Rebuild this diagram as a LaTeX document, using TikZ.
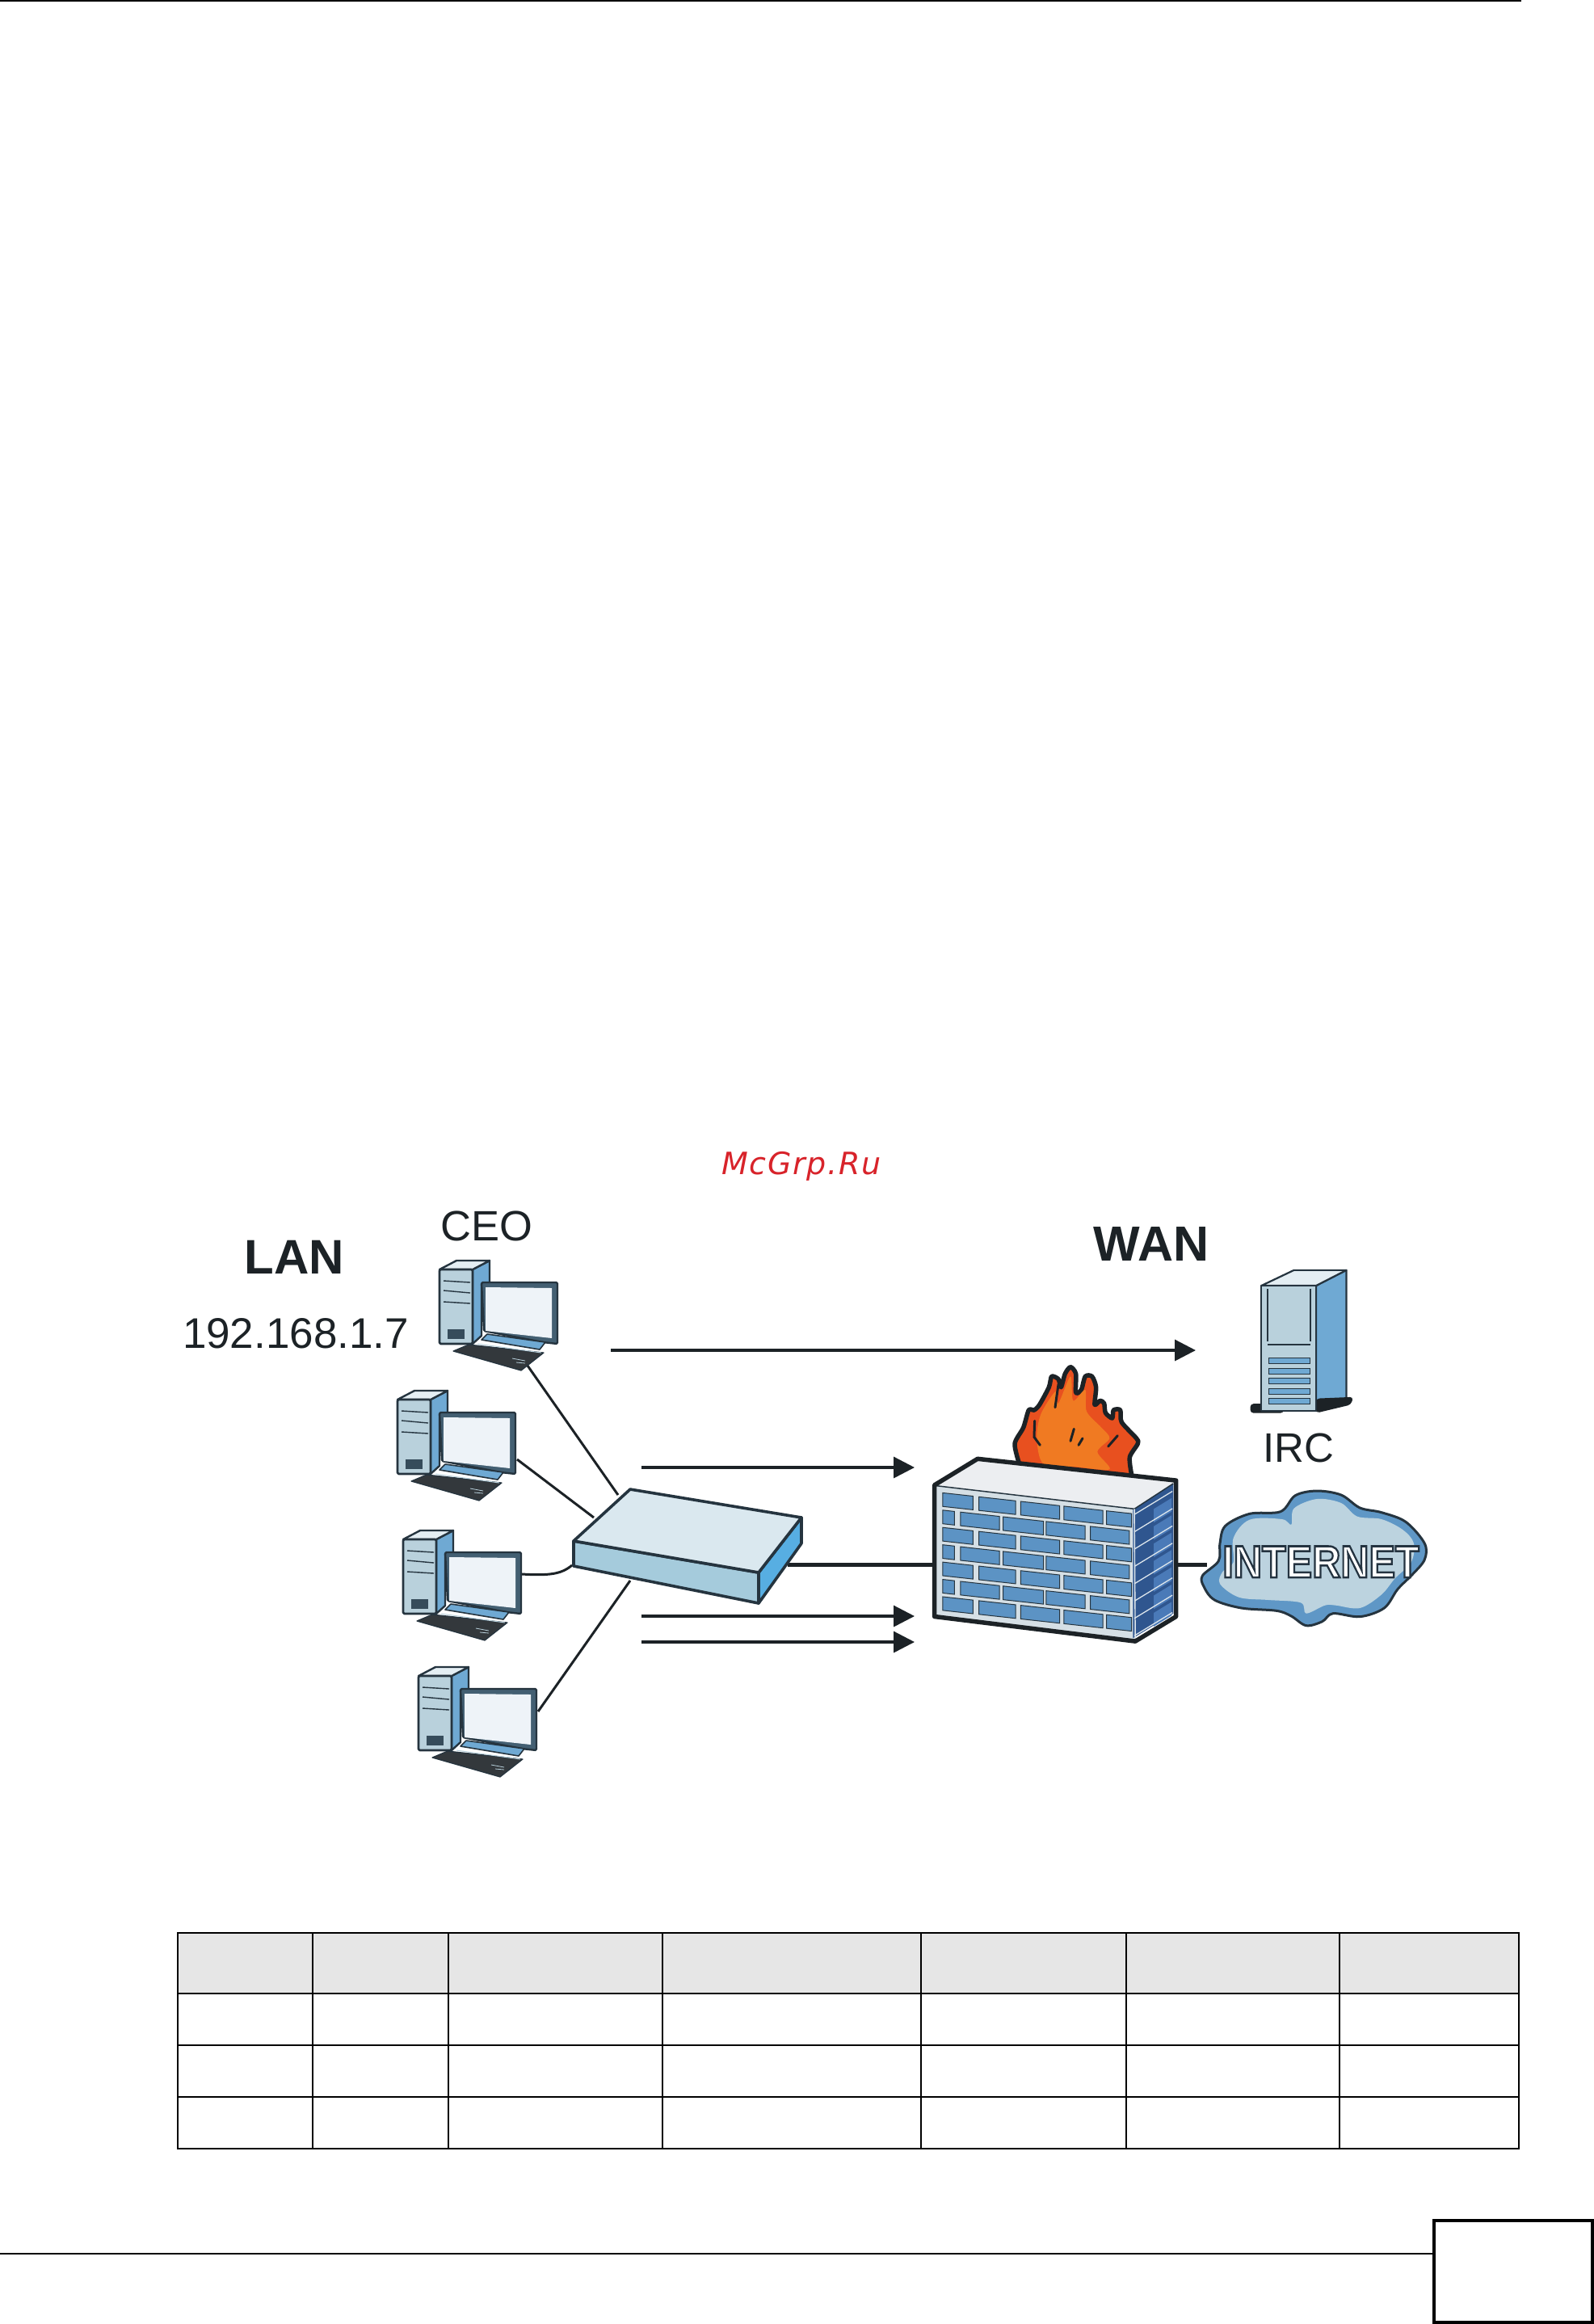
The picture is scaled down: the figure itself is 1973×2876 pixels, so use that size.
\documentclass[tikz,border=0pt]{standalone}
\usepackage{fontspec}
\setmainfont{Liberation Sans}
\newfontfamily\wmfont[LetterSpace=4.6]{DejaVu Sans Oblique}
\newfontfamily\inetfont[FakeBold=4.5]{Liberation Sans Bold}
\usetikzlibrary{arrows.meta}
\definecolor{ink}{HTML}{1C2226}
\definecolor{outl}{HTML}{25343F}
\definecolor{bluemid}{HTML}{6FA9D3}
\definecolor{bluepale}{HTML}{B9D1DC}
\definecolor{bluetop}{HTML}{E4EEF3}
\definecolor{screen}{HTML}{EEF3F8}
\definecolor{bezel}{HTML}{435F72}
\definecolor{brick}{HTML}{5C93C4}
\definecolor{brickd}{HTML}{2F568F}
\definecolor{brickm}{HTML}{4A7AB8}
\definecolor{flame}{HTML}{E8501F}
\definecolor{flamein}{HTML}{F07A22}
\definecolor{headgrey}{HTML}{E6E6E6}
\definecolor{wmred}{HTML}{D8232A}
\definecolor{swfront}{HTML}{A5CBDC}
\definecolor{swside}{HTML}{57AEE2}
\definecolor{swtop}{HTML}{DAE8EF}
\definecolor{mortar}{HTML}{D5DFE5}
\definecolor{mortarl}{HTML}{DDE6EC}
\definecolor{walltop}{HTML}{ECEEF1}
\definecolor{cloudo}{HTML}{5F97C6}
\definecolor{cloudi}{HTML}{BCD3DF}
\tikzset{
  x=1pt,y=-1pt,
  lab/.style={anchor=base,inner sep=0pt,text=ink},
  link/.style={draw=ink,line width=3pt},
  trunk/.style={draw=ink,line width=5pt},
  flow/.style={draw=ink,line width=3.4pt,-{Triangle[length=26pt,width=26pt]}},
  tblh/.style={draw=black,line width=2.2pt},
  tblv/.style={draw=black,line width=1.3pt},
  pc/.pic={
    \fill[bluemid,draw=outl,line width=2.4pt,line join=round] (41,12)--(62,1)--(62,30)--(52,30)--(52,94)--(41,104)--cycle;
    \fill[bluetop,draw=outl,line width=2.4pt,line join=round] (0,12)--(21,1)--(62,1)--(41,12)--cycle;
    \fill[bluepale,draw=outl,line width=2.6pt,line join=round,rounded corners=1.5pt] (0,12)--(41,12)--(41,104)--(0,104)--cycle;
    \draw[outl,line width=1.4pt] (5,26)--(38,28) (5,38)--(38,41) (5,52)--(38,54);
    \fill[bezel!80!black] (10,86) rectangle (31,98);
    \fill[bezel,draw=outl,line width=2.4pt,line join=round,rounded corners=1.5pt] (52,28)--(146,28)--(146,104)--(128,102)--(55,88)--cycle;
    \fill[screen] (57,34)--(139,35)--(139,97)--(57,88)--cycle;
    \fill[bluemid,draw=outl,line width=1.6pt,line join=round] (59,92)--(131,102)--(124,111)--(52,99)--cycle;
    \fill[ink!90!white,draw=outl,line width=1.2pt,line join=round] (17,113)--(36,105)--(129,115)--(101,137)--cycle;
    \draw[bluepale,line width=1pt] (47,104)--(126,115);
    \draw[bluepale,line width=.8pt] (90,122)--(106,125) (95,127)--(106,128);
  },
}
\begin{document}
\begin{tikzpicture}
\useasboundingbox (0,0) rectangle (1973,2876);
\fill[white] (0,0) rectangle (1973,2876);

% page furniture
\coordinate (topl) at (0,1); \coordinate (topr) at (1883,1);
\draw[black,line width=2.6pt] (topl)--(topr);
\coordinate (footl) at (0,2789); \coordinate (footr) at (1775,2789);
\draw[black,line width=2pt] (footl)--(footr);
\draw[black,line width=4pt] (1775,2748) rectangle (1971,2874);

% table
\fill[headgrey] (220,2392) rectangle (1880,2467);
\foreach \c in {220,387,555,820,1140,1394,1658,1880}{\draw[tblv] (\c,2392)--(\c,2660);}
\foreach \r in {2392,2467,2531,2595,2659}{\draw[tblh] (219,\r)--(1881,\r);}

% watermark
\node[lab,text=wmred,font={\fontsize{38}{40}\wmfont}] (wm) at (992,1453) {McGrp.Ru};

% labels
\node[lab,font={\fontsize{60}{62}\selectfont\bfseries}] (lan) at (364,1576) {LAN};
\node[lab,font={\fontsize{53}{55}\selectfont}] (ip) at (366,1668) {192.168.1.7};
\node[lab,font={\fontsize{52.5}{55}\selectfont}] (ceo) at (602,1535) {CEO};
\node[lab,font={\fontsize{61}{63}\selectfont\bfseries}] (wan) at (1425,1560) {WAN};
\node[lab,font={\fontsize{51}{53}\selectfont}] (irc) at (1607,1809) {IRC};

% connector ports
\coordinate (p1) at (653,1690); \coordinate (s1) at (765,1850);
\coordinate (p2) at (640,1806); \coordinate (s2) at (735,1878);
\coordinate (p3) at (646,1948); \coordinate (s3) at (708,1937);
\coordinate (p4) at (666,2118); \coordinate (s4) at (780,1956);
\coordinate (s5) at (975,1936); \coordinate (f1) at (1157,1936);
\coordinate (f2) at (1456,1936); \coordinate (c1) at (1494,1936);

\draw[link] (p1)--(s1);
\draw[link] (p2)--(s2);
\draw[link] (p3) .. controls (680,1950) and (695,1948) .. (s3);
\draw[link] (p4)--(s4);
\draw[trunk] (s5)--(f1);
\draw[trunk] (f2)--(c1);

% PCs
\pic at (544,1559) {pc};
\pic at (492,1720) {pc};
\pic at (499,1893) {pc};
\pic at (518,2062) {pc};

% switch
\fill[swfront,draw=outl,line width=3.6pt,line join=round] (710,1907)--(939,1946)--(939,1984)--(710,1938)--cycle;
\fill[swside,draw=outl,line width=3.6pt,line join=round] (939,1946)--(992,1878)--(992,1910)--(939,1984)--cycle;
\fill[swtop,draw=outl,line width=3.6pt,line join=round] (710,1907)--(780,1843)--(992,1878)--(939,1946)--cycle;

% arrows
\coordinate (a1s) at (756,1671); \coordinate (a1e) at (1480,1671);
\coordinate (a2s) at (794,1816); \coordinate (a2e) at (1132,1816);
\coordinate (a3s) at (794,2000); \coordinate (a3e) at (1132,2000);
\coordinate (a4s) at (794,2032); \coordinate (a4e) at (1132,2032);
\draw[flow] (a1s)--(a1e);
\draw[flow] (a2s)--(a2e);
\draw[flow] (a3s)--(a3e);
\draw[flow] (a4s)--(a4e);

% flame (coordinates of a 3x view)
\begin{scope}[shift={(1230,1680)},x=.3333pt,y=-.3333pt]
\fill[flame,draw=ink,line width=5.5pt,line join=round] plot[smooth,tension=.45] coordinates {(95,395)(78,320)(110,260)(130,195)(150,195)(170,175)(205,110)(215,70)(240,80)(250,110)(265,60)(285,35)(305,60)(305,130)(325,120)(340,70)(365,70)(380,110)(375,175)(395,160)(410,170)(415,205)(440,225)(445,195)(470,195)(475,240)(530,300)(535,320)(505,370)(512,435)};
\fill[flamein] plot[smooth cycle,tension=.5] coordinates {(185,395)(160,300)(175,210)(230,125)(240,170)(285,70)(295,160)(340,120)(345,200)(400,260)(430,300)(385,350)(430,415)(300,405)};
\draw[ink,line width=3pt,line cap=round] (152,235)--(150,295)--(172,325) (240,100)--(228,185) (298,265)--(285,310) (330,300)--(315,325) (460,290)--(425,330);
\end{scope}

% firewall and server (coordinates of a stretched view)
\begin{scope}[shift={(900,1480)},x=.5741pt,y=-.3827pt]
% server
\fill[bluemid,draw=outl,line width=2.2pt,line join=round] (1270,290)--(1335,240)--(1335,660)--(1270,695)--cycle;
\fill[bluetop,draw=outl,line width=2.2pt,line join=round] (1152,290)--(1222,240)--(1335,240)--(1270,290)--cycle;
\fill[ink,rounded corners=4pt] (1128,672)--(1200,672)--(1200,702)--(1128,702)--cycle;
\fill[ink,rounded corners=4pt] (1270,655)--(1350,650)--(1345,675)--(1270,702)--cycle;
\fill[bluepale,draw=outl,line width=2.2pt,line join=round] (1152,290)--(1270,290)--(1270,695)--(1152,695)--cycle;
\draw[outl,line width=1.5pt] (1165,300)--(1165,470) (1258,300)--(1258,470);
\draw[outl,line width=2.4pt] (1165,480)--(1258,480);
\foreach \yy in {525,558,590,622,655}{\fill[bluemid,draw=outl,line width=.9pt] (1167,\yy) rectangle (1256,\yy+18);}
% wall
\fill[mortar] (447,935)--(880,1010)--(880,1440)--(447,1360)--cycle;
\fill[brickd] (875,1015)--(962,930)--(962,1350)--(875,1430)--cycle;
\foreach \k in {0,...,6}{
  \fill[brickm] (920,{1012+56*\k})--(958,{977+56*\k})--(958,{1021+56*\k})--(920,{1056+56*\k})--cycle;
  \draw[mortarl,line width=1.3pt] (878,{1030+56*\k})--(960,{955+56*\k});}
\draw[mortarl,line width=1.3pt] (878,1422)--(960,1347);
\foreach \r in {0,2,4,6}{\foreach \a/\b in {465/530,543/622,633/717,726/810,818/872}{
  \fill[brick,draw=outl,line width=1pt] (\a,{960+56*\r+.165*(\a-465)})--(\b,{960+56*\r+.165*(\b-465)})--(\b,{1004+56*\r+.165*(\b-465)})--(\a,{1004+56*\r+.165*(\a-465)})--cycle;}}
\foreach \r in {1,3,5}{\foreach \a/\b in {465/490,503/587,595/682,688/772,783/867}{
  \fill[brick,draw=outl,line width=1pt] (\a,{960+56*\r+.165*(\a-465)})--(\b,{960+56*\r+.165*(\b-465)})--(\b,{1004+56*\r+.165*(\b-465)})--(\a,{1004+56*\r+.165*(\a-465)})--cycle;}}
\fill[walltop] (450,935)--(540,855)--(965,925)--(878,1012)--cycle;
\draw[outl,line width=1.5pt] (450,937)--(878,1012)--(962,930);
\draw[mortarl,line width=1.4pt] (878,1012)--(880,1435);
\draw[ink,line width=5.5pt,line join=round] (447,935)--(540,850)--(968,920)--(968,1360)--(880,1440)--(447,1360)--cycle;
\end{scope}

% cloud (coordinates of a 3x view)
\begin{scope}[shift={(1470,1830)},x=.3333pt,y=-.3333pt]
\fill[cloudo,draw=outl,line width=3pt,line join=round] plot[smooth cycle,tension=.55] coordinates {(60,400)(55,360)(115,305)(120,240)(140,175)(230,130)(345,122)(400,62)(480,45)(570,60)(640,108)(720,125)(810,160)(880,240)(880,300)(835,355)(780,410)(730,480)(640,512)(540,500)(500,530)(440,545)(385,510)(330,490)(200,480)(100,450)};
\fill[cloudi] plot[smooth cycle,tension=.55] coordinates {(120,390)(130,345)(170,310)(170,220)(230,152)(350,150)(385,170)(395,110)(480,75)(570,90)(630,140)(720,150)(800,190)(840,240)(830,310)(770,370)(720,430)(640,480)(550,470)(510,470)(440,500)(420,460)(300,450)(190,440)};
\end{scope}
\node[lab,text=white,xscale=.87,transform shape,font={\fontsize{56}{58}\inetfont}] (inet) at (1635,1952) {\special{pdf:code 0.14 0.2 0.25 RG}INTERNET};
\end{tikzpicture}
\end{document}
